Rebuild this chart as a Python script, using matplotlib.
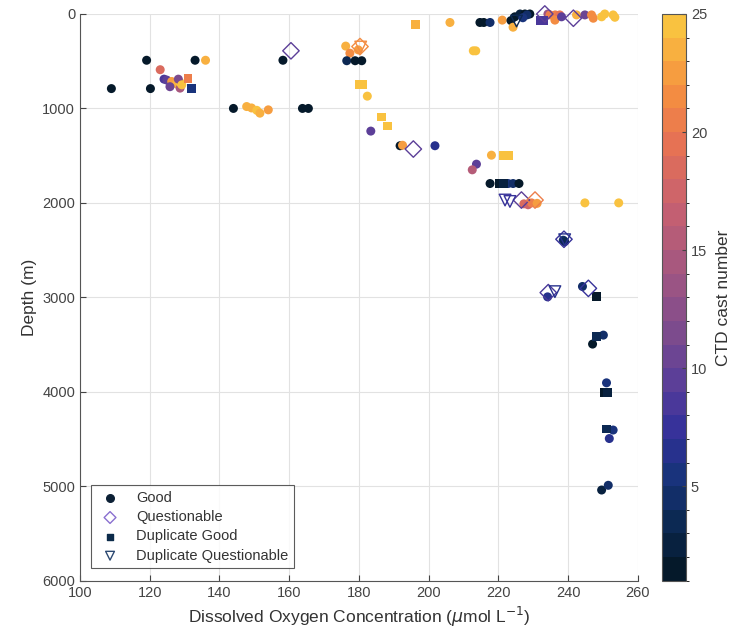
import numpy as np
import matplotlib
matplotlib.use("Agg")
import matplotlib.pyplot as plt
from matplotlib.colors import LinearSegmentedColormap, BoundaryNorm

plt.rcParams["font.family"] = ["Liberation Sans", "DejaVu Sans"]

# Good samples: oxygen (umol/L), depth (m), CTD cast
good_o2 = [119.1, 133.0, 136.0, 158.2, 123.0, 109.0, 120.2, 124.1, 124.9, 126.3,
           127.7, 128.7, 128.7, 128.2, 129.2, 125.8, 144.0, 147.8, 149.2, 150.7,
           151.6, 154.0, 163.8, 165.5, 176.2, 177.4, 179.8, 176.5, 178.9, 180.8,
           182.4, 183.4, 206.1, 214.7, 215.8, 217.6, 212.8, 213.5, 221.1, 223.6,
           224.2, 224.7, 226.2, 227.6, 229.0, 228.2, 227.0, 234.2, 234.8, 236.3,
           237.6, 236.2, 238.1, 242.4, 244.8, 246.7, 247.2, 249.6, 250.5, 252.9,
           253.4, 191.8, 192.5, 201.8, 218.0, 213.7, 212.5, 217.6, 222.8, 224.2,
           225.9, 227.3, 228.5, 229.5, 231.1, 244.8, 254.5, 238.6, 239.0, 234.1,
           244.1, 250.1, 247.0, 251.0, 252.9, 251.8, 249.6, 251.5]
good_depth = [490, 490, 490, 490, 590, 790, 790, 690, 700, 715,
              740, 785, 725, 690, 750, 770, 1000, 980, 995, 1020,
              1050, 1015, 1000, 1000, 340, 415, 380, 495, 495, 495,
              870, 1240, 90, 90, 90, 90, 390, 390, 65, 70,
              140, 30, 0, 0, 0, 10, 40, 0, 10, 10,
              10, 65, 30, 10, 10, 10, 45, 30, 0, 10,
              35, 1395, 1390, 1395, 1495, 1590, 1650, 1795, 1795, 1795,
              1795, 2010, 2020, 2000, 2005, 2000, 2000, 2395, 2410, 2995,
              2885, 3400, 3495, 3905, 4405, 4495, 5040, 4990]
good_cast = [1, 1, 23, 1, 18, 1, 1, 8, 9, 22,
             23, 14, 24, 11, 25, 10, 1, 23, 23, 24,
             23, 22, 1, 1, 23, 21, 22, 3, 1, 1,
             25, 9, 23, 1, 1, 4, 25, 25, 22, 1,
             23, 1, 2, 1, 1, 4, 5, 13, 20, 20,
             19, 21, 9, 23, 10, 21, 21, 24, 24, 25,
             25, 1, 22, 6, 23, 9, 15, 1, 5, 4,
             1, 18, 17, 20, 22, 24, 25, 4, 3, 6,
             4, 4, 1, 5, 5, 6, 2, 4]

# Questionable samples
quest_o2 = [160.5, 180.3, 233.3, 241.5, 195.6, 226.6, 230.5, 238.8, 245.8, 234.3]
quest_depth = [390, 345, 0, 45, 1430, 1970, 1970, 2385, 2905, 2950]
quest_cast = [9, 21, 9, 9, 9, 9, 20, 7, 7, 8]

# Duplicate good samples
dup_o2 = [131.0, 132.0, 196.3, 180.0, 181.0, 186.5, 188.1, 221.3, 222.8, 220.4,
          221.5, 231.9, 232.9, 248.1, 248.1, 250.5, 251.3, 251.0]
dup_depth = [685, 790, 110, 745, 745, 1090, 1185, 1495, 1495, 1795,
             1795, 65, 70, 2995, 3415, 4010, 4010, 4395]
dup_cast = [20, 5, 23, 25, 25, 25, 25, 25, 25, 1,
            2, 8, 8, 1, 3, 1, 2, 3]

# Duplicate questionable samples
dupq_o2 = [225.2, 221.9, 223.3, 239.0, 236.2, 180.5]
dupq_depth = [75, 1970, 1985, 2390, 2940, 350]
dupq_cast = [3, 7, 7, 6, 6, 21]

# thermal-like colour map, one band per cast
cmap = LinearSegmentedColormap.from_list("thermal_like", [
    (0.00, "#05192a"), (0.08, "#0b2850"), (0.17, "#18337a"),
    (0.25, "#32309a"), (0.33, "#553c9a"), (0.42, "#77498f"),
    (0.54, "#a05682"), (0.67, "#c8616f"), (0.79, "#e87352"),
    (0.88, "#f58f40"), (1.00, "#f9c240")], N=24)
norm = BoundaryNorm(np.linspace(1, 25, 25), cmap.N)

fig = plt.figure(figsize=(7.36, 6.44), dpi=100)
ax = fig.add_axes([0.1087, 0.0983, 0.758, 0.8800])
cax = fig.add_axes([0.8995, 0.0983, 0.0326, 0.8800])

sc = ax.scatter(good_o2, good_depth, c=good_cast, cmap=cmap, norm=norm,
                s=42, marker="o", edgecolors="none", zorder=3, clip_on=False)
ax.scatter(dup_o2, dup_depth, c=dup_cast, cmap=cmap, norm=norm,
           s=40, marker="s", edgecolors="none", zorder=3, clip_on=False)
ax.scatter(quest_o2, quest_depth, facecolors="none",
           edgecolors=cmap(norm(quest_cast)), s=70, marker="D",
           linewidths=1.0, zorder=4, clip_on=False)
ax.scatter(dupq_o2, dupq_depth, facecolors="none",
           edgecolors=cmap(norm(dupq_cast)), s=70, marker="v",
           linewidths=1.0, zorder=4, clip_on=False)

ax.set_xlim(100, 260)
ax.set_ylim(6000, 0)
ax.set_xticks(np.arange(100, 261, 20))
ax.set_yticks(np.arange(0, 6001, 1000))
ax.grid(True, color="#e2e2e2", linewidth=0.8, zorder=0)
ax.set_axisbelow(True)
for side in ["top", "right"]:
    ax.spines[side].set_visible(False)
for side in ["left", "bottom"]:
    ax.spines[side].set_color("#555555")
ax.tick_params(direction="in", colors="#444444", labelsize=10.5, length=4)
ax.set_xlabel(r"Dissolved Oxygen Concentration ($\mu$mol L$^{-1}$)",
              fontsize=12.5, color="#333333")
ax.set_ylabel("Depth (m)", fontsize=12.5, color="#333333")

# legend with fixed sample colours
h1 = ax.scatter([], [], s=30, marker="o", color="#0c2035")
h2 = ax.scatter([], [], s=36, marker="D", facecolors="none",
                edgecolors="#8a70d0", linewidths=1.0)
h3 = ax.scatter([], [], s=18, marker="s", color="#0c2b4a")
h4 = ax.scatter([], [], s=40, marker="v", facecolors="none",
                edgecolors="#2d4a72", linewidths=1.0)
leg = ax.legend([h1, h2, h3, h4],
                ["Good", "Questionable", "Duplicate Good", "Duplicate Questionable"],
                loc="lower left", bbox_to_anchor=(0.012, 0.014),
                fontsize=10.5, frameon=True, fancybox=False,
                handletextpad=0.9, borderpad=0.4, labelspacing=0.35,
                handlelength=1.8, borderaxespad=0.3)
leg.get_frame().set_edgecolor("#333333")
leg.get_frame().set_linewidth(0.8)
for t in leg.get_texts():
    t.set_color("#333333")

cb = fig.colorbar(sc, cax=cax, ticks=[5, 10, 15, 20, 25])
cb.outline.set_edgecolor("#555555")
cb.outline.set_linewidth(0.8)
cax.tick_params(direction="in", colors="#444444", labelsize=10.5, length=3)
cb.set_label("CTD cast number", fontsize=12.5, color="#333333", labelpad=6)

fig.savefig("out.png", dpi=100)
